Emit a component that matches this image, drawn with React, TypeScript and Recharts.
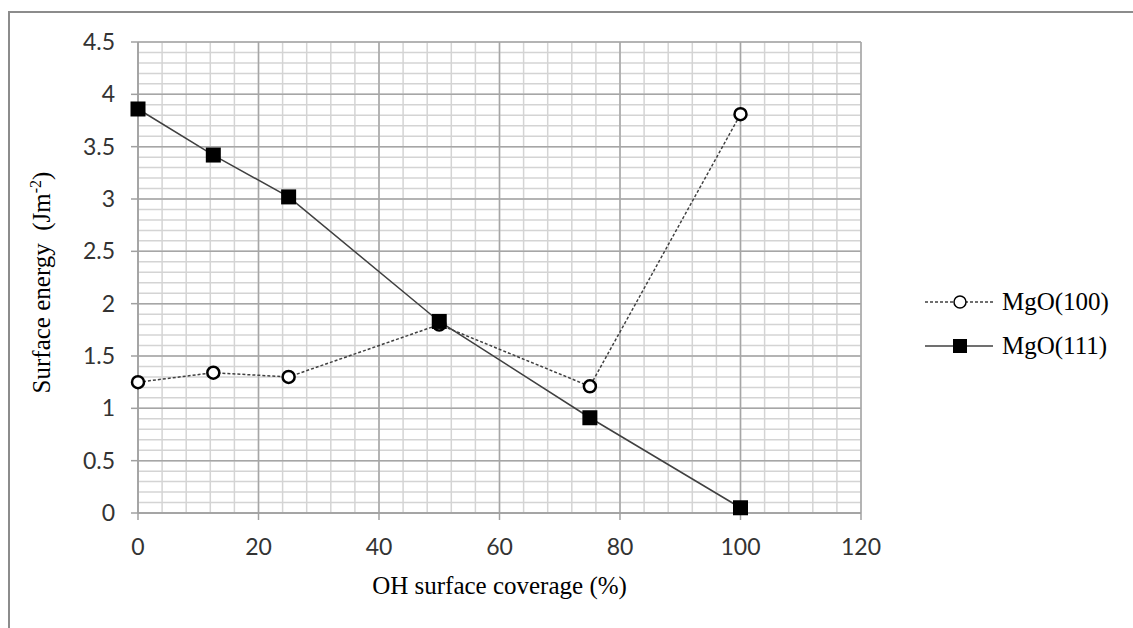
import { LineChart, Line, XAxis, YAxis, CartesianGrid } from "recharts";

const coverage = [0, 12.5, 25, 50, 75, 100];
const mgo100 = [1.25, 1.34, 1.3, 1.8, 1.21, 3.81];
const mgo111 = [3.86, 3.42, 3.02, 1.83, 0.91, 0.05];

const xTicks = [0, 20, 40, 60, 80, 100, 120];
const yTicks = [0, 0.5, 1, 1.5, 2, 2.5, 3, 3.5, 4, 4.5];
const xMinorTicks = [
  0, 4, 8, 12, 16, 20, 24, 28, 32, 36, 40, 44, 48, 52, 56, 60, 64, 68, 72, 76,
  80, 84, 88, 92, 96, 100, 104, 108, 112, 116, 120,
];
const yMinorTicks = [
  0, 0.1, 0.2, 0.3, 0.4, 0.5, 0.6, 0.7, 0.8, 0.9, 1, 1.1, 1.2, 1.3, 1.4, 1.5,
  1.6, 1.7, 1.8, 1.9, 2, 2.1, 2.2, 2.3, 2.4, 2.5, 2.6, 2.7, 2.8, 2.9, 3, 3.1,
  3.2, 3.3, 3.4, 3.5, 3.6, 3.7, 3.8, 3.9, 4, 4.1, 4.2, 4.3, 4.4, 4.5,
];

const X_DOMAIN: [number, number] = [0, 120];
const Y_DOMAIN: [number, number] = [0, 4.5];

const data = coverage.map((x, i) => ({
  x,
  "MgO(100)": mgo100[i],
  "MgO(111)": mgo111[i],
}));

const SERIF = '"Liberation Serif", "Times New Roman", serif';
const TICK_FONT = "Lato, sans-serif";
const LINE_COLOR = "#404040";

// minor grid positions come from the axis scales
const minorVertical = ({ xAxis, offset }: any) => {
  if (xAxis && typeof xAxis.scale === "function") return xMinorTicks.map((t) => xAxis.scale(t));
  return xMinorTicks.map(
    (t) => offset.left + (offset.width * (t - X_DOMAIN[0])) / (X_DOMAIN[1] - X_DOMAIN[0])
  );
};

const minorHorizontal = ({ yAxis, offset }: any) => {
  if (yAxis && typeof yAxis.scale === "function") return yMinorTicks.map((t) => yAxis.scale(t));
  return yMinorTicks.map(
    (t) => offset.top + offset.height * (1 - (t - Y_DOMAIN[0]) / (Y_DOMAIN[1] - Y_DOMAIN[0]))
  );
};

const CircleDot = (props: any) => {
  const { cx, cy } = props;
  if (cx == null || cy == null) return null;
  return <circle cx={cx} cy={cy} r={6} fill="#fff" stroke="#000" strokeWidth={2.5} />;
};

const SquareDot = (props: any) => {
  const { cx, cy } = props;
  if (cx == null || cy == null) return null;
  return <rect x={cx - 7.5} y={cy - 7.5} width={15} height={15} fill="#000" />;
};

const XTitle = ({ viewBox }: any) => {
  const cx = viewBox.x + viewBox.width / 2;
  return (
    <text x={cx} y={viewBox.y + 81} textAnchor="middle" fontFamily={SERIF} fontSize={25} fill="#000">
      OH surface coverage (%)
    </text>
  );
};

const YTitle = ({ viewBox }: any) => {
  const cx = 50;
  const cy = viewBox.y + viewBox.height / 2 + 5;
  return (
    <text
      x={cx}
      y={cy}
      transform={`rotate(-90 ${cx} ${cy})`}
      textAnchor="middle"
      fontFamily={SERIF}
      fontSize={25}
      fill="#000"
      style={{ whiteSpace: "pre" }}
    >
      {"Surface energy  (Jm"}
      <tspan dy={-9} fontSize={16}>-2</tspan>
      <tspan dy={9}>)</tspan>
    </text>
  );
};

const legendItems = [
  { name: "MgO(100)", dashed: true },
  { name: "MgO(111)", dashed: false },
];

const ChartLegend = () => (
  <div
    style={{
      position: "absolute",
      left: 925,
      top: 280,
      width: 208,
      fontFamily: SERIF,
      fontSize: 25,
      color: "#000",
    }}
  >
    {legendItems.map((item) => (
      <div key={item.name} style={{ display: "flex", alignItems: "center", height: 44 }}>
        <svg width={77} height={20}>
          <line
            x1={0}
            y1={10}
            x2={68}
            y2={10}
            stroke={LINE_COLOR}
            strokeWidth={1.5}
            strokeDasharray={item.dashed ? "3 2" : undefined}
          />
          {item.dashed ? (
            <circle cx={35} cy={10} r={6} fill="#fff" stroke="#000" strokeWidth={1.5} />
          ) : (
            <rect x={28} y={3} width={14} height={14} fill="#000" />
          )}
        </svg>
        <span>{item.name}</span>
      </div>
    ))}
  </div>
);

export default function App() {
  return (
    <div style={{ position: "absolute", left: 0, top: 0, width: 1133, height: 628, background: "#fff" }}>
      <div
        style={{
          position: "absolute",
          left: 8,
          top: 11,
          width: 1125,
          height: 617,
          borderLeft: "2px solid #8c8c8c",
          borderTop: "2px solid #8c8c8c",
          boxSizing: "border-box",
        }}
      />
      <div style={{ position: "absolute", left: 0, top: 0 }}>
        <LineChart width={1133} height={628} data={data} margin={{ top: 42, right: 272, bottom: 0, left: 0 }}>
          <CartesianGrid
            stroke="#d4d4d4"
            strokeWidth={1.5}
            verticalCoordinatesGenerator={minorVertical}
            horizontalCoordinatesGenerator={minorHorizontal}
          />
          <CartesianGrid stroke="#a6a6a6" strokeWidth={1.5} />
          <XAxis
            type="number"
            dataKey="x"
            domain={X_DOMAIN}
            ticks={xTicks}
            height={115}
            tickSize={7}
            tickMargin={19}
            axisLine={{ stroke: "#a0a0a0", strokeWidth: 1.5 }}
            tickLine={{ stroke: "#a0a0a0", strokeWidth: 1.5 }}
            tick={{ fontSize: 23, fill: "#333", fontFamily: TICK_FONT }}
            label={{ content: XTitle }}
          />
          <YAxis
            type="number"
            domain={Y_DOMAIN}
            ticks={yTicks}
            width={138}
            tickSize={7}
            tickMargin={16}
            axisLine={{ stroke: "#a0a0a0", strokeWidth: 1.5 }}
            tickLine={{ stroke: "#a0a0a0", strokeWidth: 1.5 }}
            tick={{ fontSize: 23, fill: "#333", fontFamily: TICK_FONT }}
            label={{ content: YTitle }}
          />
          <Line
            dataKey="MgO(100)"
            type="linear"
            stroke={LINE_COLOR}
            strokeWidth={1.5}
            strokeDasharray="3 2"
            dot={<CircleDot />}
            activeDot={false}
            isAnimationActive={false}
          />
          <Line
            dataKey="MgO(111)"
            type="linear"
            stroke={LINE_COLOR}
            strokeWidth={1.5}
            dot={<SquareDot />}
            activeDot={false}
            isAnimationActive={false}
          />
        </LineChart>
      </div>
      <ChartLegend />
    </div>
  );
}
